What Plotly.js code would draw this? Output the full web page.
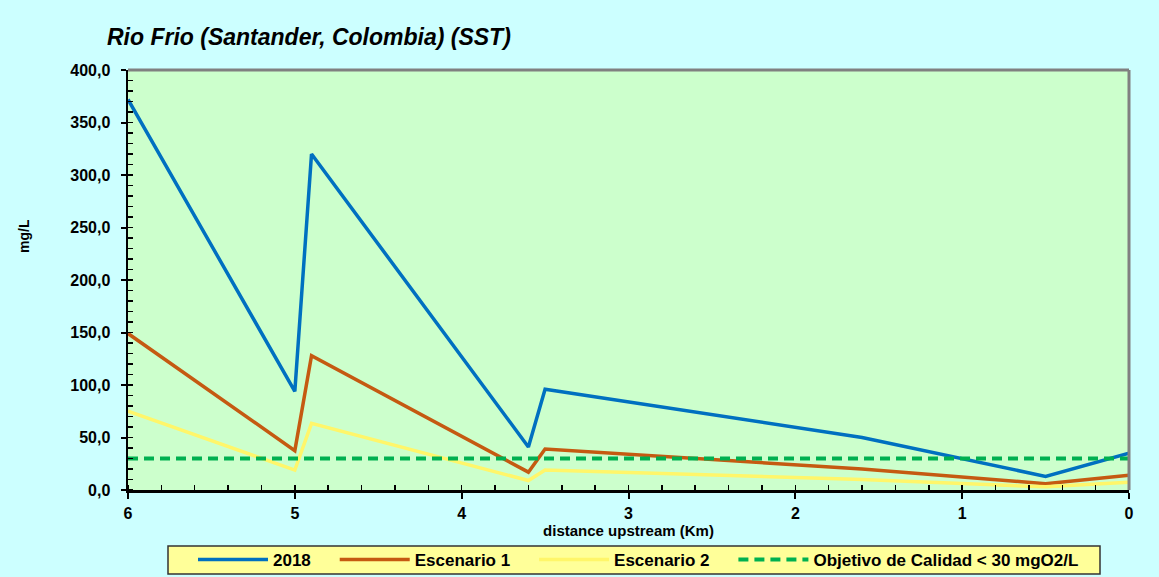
<!DOCTYPE html>
<html>
<head>
<meta charset="utf-8">
<script src="https://cdn.plot.ly/plotly-3.0.1.min.js"></script>
<style>
  html, body { margin: 0; padding: 0; background: #CCFFFF; }
  #chart { width: 1159px; height: 577px; }
</style>
</head>
<body>
<div id="chart"></div>
<script>
// ---- data ----
const distanceKm   = [6, 5, 4.9, 3.6, 3.5, 1.6, 0.5, 0];
const sst2018      = [372, 94, 320, 41, 96, 50, 13, 35];
const escenario1   = [149, 37.5, 128, 17, 39, 20, 6, 14];
const escenario2   = [75, 19, 63.5, 9, 19, 10, 3, 7.3];
const objetivoX    = [6, 0];
const objetivoY    = [30, 30];
const seriesNames  = ['2018', 'Escenario 1', 'Escenario 2', 'Objetivo de Calidad < 30 mgO2/L'];
const chartTitle   = 'Rio Frio (Santander, Colombia) (SST)';
const xTitle       = 'distance upstream (Km)';
const yTitle       = 'mg/L';

const FONT = 'Liberation Sans, Arial, sans-serif';
const PAD = '\u00A0\u00A0\u00A0\u00A0';   // visual spacing between legend entries

const traces = [
  { x: distanceKm, y: sst2018, name: seriesNames[0] + PAD, mode: 'lines',
    line: { color: '#0070C0', width: 3.5 } },
  { x: distanceKm, y: escenario1, name: seriesNames[1] + PAD, mode: 'lines',
    line: { color: '#C55A11', width: 3.5 } },
  { x: distanceKm, y: escenario2, name: seriesNames[2] + PAD, mode: 'lines',
    line: { color: '#FFF66A', width: 3.5 } },
  { x: objetivoX, y: objetivoY, name: seriesNames[3], mode: 'lines',
    line: { color: '#00B050', width: 4, dash: '10px,6px' } }
];

// pixel -> paper helpers (plot area: x 128..1129, y 70..490)
const px = v => (v - 128) / 1001;
const py = v => (490 - v) / 420;

const layout = {
  width: 1159, height: 577,
  paper_bgcolor: '#CCFFFF',
  plot_bgcolor: '#CCFFCC',
  separators: ',.',
  margin: { l: 128, r: 30, t: 70, b: 87, pad: 0, autoexpand: false },
  font: { family: FONT, color: '#000000', size: 15, weight: 'bold' },
  title: {
    text: chartTitle,
    xref: 'container', yref: 'container',
    x: 107 / 1159, xanchor: 'left',
    y: 1 - 37 / 577, yanchor: 'middle',
    font: { family: FONT, size: 23, weight: 'bold', style: 'italic', color: '#000000' }
  },
  xaxis: {
    range: [6, 0],
    tick0: 0, dtick: 1,
    showgrid: false, zeroline: false,
    showline: true, linecolor: '#000000', linewidth: 2.5,
    ticks: 'outside', ticklen: 6, tickwidth: 2, tickcolor: '#000000',
    ticklabelstandoff: 1,
    tickfont: { family: FONT, size: 16, weight: 'bold', color: '#000000' },
    minor: { dtick: 0.2, ticks: 'inside', ticklen: 5, tickwidth: 1.5, tickcolor: '#000000', showgrid: false },
    title: { text: xTitle, standoff: 3, font: { family: FONT, size: 15, weight: 'bold', color: '#000000' } }
  },
  yaxis: {
    range: [0, 400],
    tick0: 0, dtick: 50,
    tickformat: '.1f',
    showgrid: false, zeroline: false,
    showline: true, linecolor: '#000000', linewidth: 2.5,
    ticks: 'outside', ticklen: 5, tickwidth: 2, tickcolor: '#000000',
    ticklabelstandoff: 7,
    tickfont: { family: FONT, size: 16, weight: 'bold', color: '#000000' },
    minor: { dtick: 10, ticks: 'inside', ticklen: 5, tickwidth: 1.5, tickcolor: '#000000', showgrid: false }
  },
  showlegend: true,
  legend: {
    orientation: 'h',
    x: px(193), xanchor: 'left',
    y: py(542), yanchor: 'top',
    bgcolor: 'rgba(0,0,0,0)',
    borderwidth: 0,
    itemwidth: 70,
    font: { family: FONT, size: 17, weight: 'bold', color: '#000000' }
  },
  annotations: [
    { text: yTitle, xref: 'paper', yref: 'paper',
      x: px(24), y: py(236),
      xanchor: 'center', yanchor: 'middle', textangle: -90, showarrow: false,
      font: { family: FONT, size: 14, weight: 'bold', color: '#000000' } }
  ],
  shapes: [
    { type: 'line', xref: 'paper', yref: 'paper', x0: 0, x1: 1, y0: 1, y1: 1,
      line: { color: '#808080', width: 3 }, layer: 'above' },
    { type: 'line', xref: 'paper', yref: 'paper', x0: 1, x1: 1, y0: 0, y1: 1,
      line: { color: '#808080', width: 3 }, layer: 'above' },
    // legend box
    { type: 'rect', xref: 'paper', yref: 'paper',
      x0: px(168), x1: px(1100), y0: py(546), y1: py(574),
      fillcolor: '#FFFF99', line: { color: '#333333', width: 1.5 }, layer: 'below' }
  ]
};

Plotly.newPlot('chart', traces, layout, { displayModeBar: false, staticPlot: true });
</script>
</body>
</html>
